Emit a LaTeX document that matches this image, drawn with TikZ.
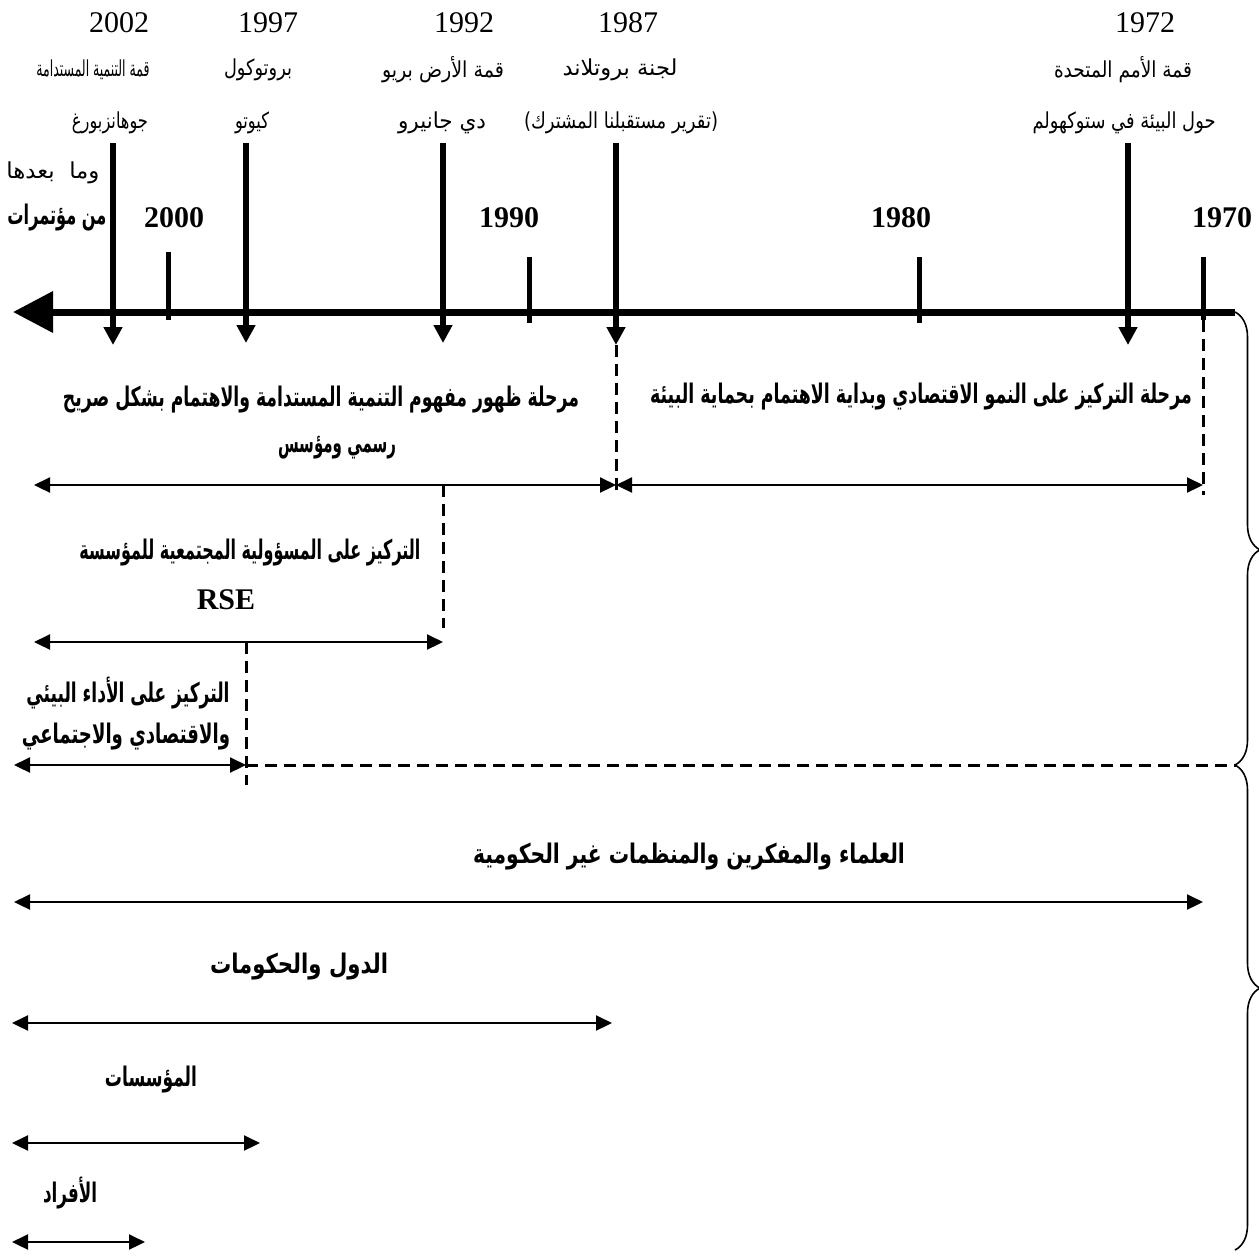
\documentclass[tikz,border=0pt]{standalone}
\usepackage{fontspec}
\usepackage{graphicx}
\setmainfont{Liberation Serif}
\newfontfamily\arabicfont[Script=Arabic]{DejaVu Sans}
\TeXXeTstate=1
\usetikzlibrary{arrows.meta,decorations.pathreplacing}
% width-fitted Arabic text: #1 target width (pt), #2 text
\newcommand\artxt[2]{\resizebox{#1pt}{\height}{\arabicfont\fontsize{11pt}{13pt}\selectfont #2}}
\newcommand\artxtb[2]{\resizebox{#1pt}{\height}{\arabicfont\bfseries\fontsize{13.5pt}{16pt}\selectfont #2}}
\begin{document}
\begin{tikzpicture}[x=0.5pt,y=-0.5pt,
  lbl/.style={inner sep=0pt, outer sep=0pt},
  yr/.style={lbl, font=\fontsize{15pt}{18pt}\selectfont},
  byr/.style={lbl, font=\fontsize{15pt}{18pt}\selectfont\bfseries},
  mainaxis/.style={line width=3.5pt, -{Triangle[length=20pt,width=20pt]}},
  evarrow/.style={line width=3pt, -{Triangle[length=9pt,width=9pt]}},
  tickmark/.style={line width=2.5pt},
  spanarrow/.style={line width=1.1pt, {Triangle[length=8pt,width=7.5pt]}-{Triangle[length=8pt,width=7.5pt]}},
  guide/.style={line width=1.5pt, dash pattern=on 6pt off 3.5pt},
  bracedeco/.style={line width=0.8pt, decorate, decoration={brace, amplitude=12.5pt, aspect=#1}},
]
\useasboundingbox[fill=white] (0,0) rectangle (1259,1255);

% ---- top year labels
\node[yr] (y2002) at (119,23) {2002};
\node[yr] (y1997) at (268,23) {1997};
\node[yr] (y1992) at (464,23) {1992};
\node[yr] (y1987) at (628,23) {1987};
\node[yr] (y1972) at (1145,23) {1972};

% ---- event labels
\node[lbl] (ev2002a) at (93,70) {\artxt{56.5}{\beginR قمة التنمية المستدامة\endR}};
\node[lbl] (ev2002b) at (110,123) {\artxt{38}{\beginR جوهانزبورغ\endR}};
\node[lbl] (ev1997a) at (258,70) {\artxt{34}{\beginR بروتوكول\endR}};
\node[lbl] (ev1997b) at (252,123) {\artxt{17}{\beginR كيوتو\endR}};
\node[lbl] (ev1992a) at (443,70) {\artxt{61}{\beginR قمة الأرض بريو\endR}};
\node[lbl] (ev1992b) at (442,123) {\artxt{44}{\beginR دي جانيرو\endR}};
\node[lbl] (ev1987a) at (620,70) {\artxt{57.5}{\beginR لجنة بروتلاند\endR}};
\node[lbl] (ev1987b) at (621,123) {\artxt{97}{\beginR (تقرير مستقبلنا المشترك)\endR}};
\node[lbl] (ev1972a) at (1123,70) {\artxt{69}{\beginR قمة الأمم المتحدة\endR}};
\node[lbl] (ev1972b) at (1124,123) {\artxt{91.5}{\beginR حول البيئة في ستوكهولم\endR}};
\node[lbl] (after1) at (53,173) {\artxt{46.5}{\beginR وما\ \ بعدها\endR}};
\node[lbl] (after2) at (57,218) {\artxtb{49.5}{\beginR من مؤتمرات\endR}};

% ---- decade labels
\node[byr] (d2000) at (174,218) {2000};
\node[byr] (d1990) at (509,218) {1990};
\node[byr] (d1980) at (901,218) {1980};
\node[byr] (d1970) at (1222,218) {1970};

% ---- main axis
\coordinate (axR) at (1235,312);
\coordinate (axL) at (13,312);
\draw[mainaxis] (axR) -- (axL);

% ---- decade ticks
\coordinate (t2000a) at (168,252); \coordinate (t2000b) at (168,320);
\coordinate (t1990a) at (529,257); \coordinate (t1990b) at (529,323);
\coordinate (t1980a) at (919,257); \coordinate (t1980b) at (919,323);
\coordinate (t1970a) at (1203,257); \coordinate (t1970b) at (1203,320);
\draw[tickmark] (t2000a) -- (t2000b);
\draw[tickmark] (t1990a) -- (t1990b);
\draw[tickmark] (t1980a) -- (t1980b);
\draw[tickmark] (t1970a) -- (t1970b);

% ---- event arrows
\coordinate (a2002t) at (113,143); \coordinate (a2002b) at (113,345);
\coordinate (a1997t) at (246,143); \coordinate (a1997b) at (246,343);
\coordinate (a1992t) at (443,143); \coordinate (a1992b) at (443,343);
\coordinate (a1987t) at (616,143); \coordinate (a1987b) at (616,345);
\coordinate (a1972t) at (1128,143); \coordinate (a1972b) at (1128,345);
\draw[evarrow] (a2002t) -- (a2002b);
\draw[evarrow] (a1997t) -- (a1997b);
\draw[evarrow] (a1992t) -- (a1992b);
\draw[evarrow] (a1987t) -- (a1987b);
\draw[evarrow] (a1972t) -- (a1972b);

% ---- dashed guides
\coordinate (g1t) at (616,345); \coordinate (g1b) at (616,495);
\coordinate (g2t) at (1203,320); \coordinate (g2b) at (1203,495);
\coordinate (g3t) at (443,485); \coordinate (g3b) at (443,628);
\coordinate (g4t) at (246,642); \coordinate (g4b) at (246,785);
\coordinate (g5l) at (246,765); \coordinate (g5r) at (1236,765);
\draw[guide] (g1t) -- (g1b);
\draw[guide] (g2t) -- (g2b);
\draw[guide] (g3t) -- (g3b);
\draw[guide] (g4t) -- (g4b);
\draw[guide] (g5l) -- (g5r);

% ---- phase texts
\node[lbl] (ph2a) at (321,400) {\artxtb{258}{\beginR مرحلة ظهور مفهوم التنمية المستدامة والاهتمام بشكل صريح\endR}};
\node[lbl] (ph2b) at (337,448) {\artxtb{59}{\beginR رسمي ومؤسس\endR}};
\node[lbl] (ph1) at (921,397) {\artxtb{271}{\beginR مرحلة التركيز على النمو الاقتصادي وبداية الاهتمام بحماية البيئة\endR}};
\node[lbl] (rse1) at (250,553) {\artxtb{170.5}{\beginR التركيز على المسؤولية المجتمعية للمؤسسة\endR}};
\node[byr] (rse2) at (226,600) {RSE};
\node[lbl] (perf1) at (128,693) {\artxtb{101.5}{\beginR التركيز على الأداء البيئي\endR}};
\node[lbl] (perf2) at (126,737) {\artxtb{104}{\beginR والاقتصادي والاجتماعي\endR}};
\node[lbl] (act1) at (689,857) {\artxtb{216}{\beginR العلماء والمفكرين والمنظمات غير الحكومية\endR}};
\node[lbl] (act2) at (299,967) {\artxtb{89}{\beginR الدول والحكومات\endR}};
\node[lbl] (act3) at (151,1080) {\artxtb{46}{\beginR المؤسسات\endR}};
\node[lbl] (act4) at (70,1193) {\artxtb{27}{\beginR الأفراد\endR}};

% ---- span arrows
\coordinate (s1l) at (34,485);  \coordinate (s1r) at (616,485);
\coordinate (s2l) at (616,485); \coordinate (s2r) at (1203,485);
\coordinate (s3l) at (34,642);  \coordinate (s3r) at (443,642);
\coordinate (s4l) at (14,765);  \coordinate (s4r) at (246,765);
\coordinate (s5l) at (14,902);  \coordinate (s5r) at (1203,902);
\coordinate (s6l) at (12,1023); \coordinate (s6r) at (612,1023);
\coordinate (s7l) at (12,1143); \coordinate (s7r) at (260,1143);
\coordinate (s8l) at (12,1242); \coordinate (s8r) at (145,1242);
\draw[spanarrow] (s1l) -- (s1r);
\draw[spanarrow] (s2l) -- (s2r);
\draw[spanarrow] (s3l) -- (s3r);
\draw[spanarrow] (s4l) -- (s4r);
\draw[spanarrow] (s5l) -- (s5r);
\draw[spanarrow] (s6l) -- (s6r);
\draw[spanarrow] (s7l) -- (s7r);
\draw[spanarrow] (s8l) -- (s8r);

% ---- braces
\coordinate (b1t) at (1235,312);
\coordinate (b1b) at (1235,765);
\coordinate (b2b) at (1235,1250);
\draw[bracedeco=0.525] (b1t) -- (b1b);
\draw[bracedeco=0.46] (b1b) -- (b2b);
\end{tikzpicture}
\end{document}
